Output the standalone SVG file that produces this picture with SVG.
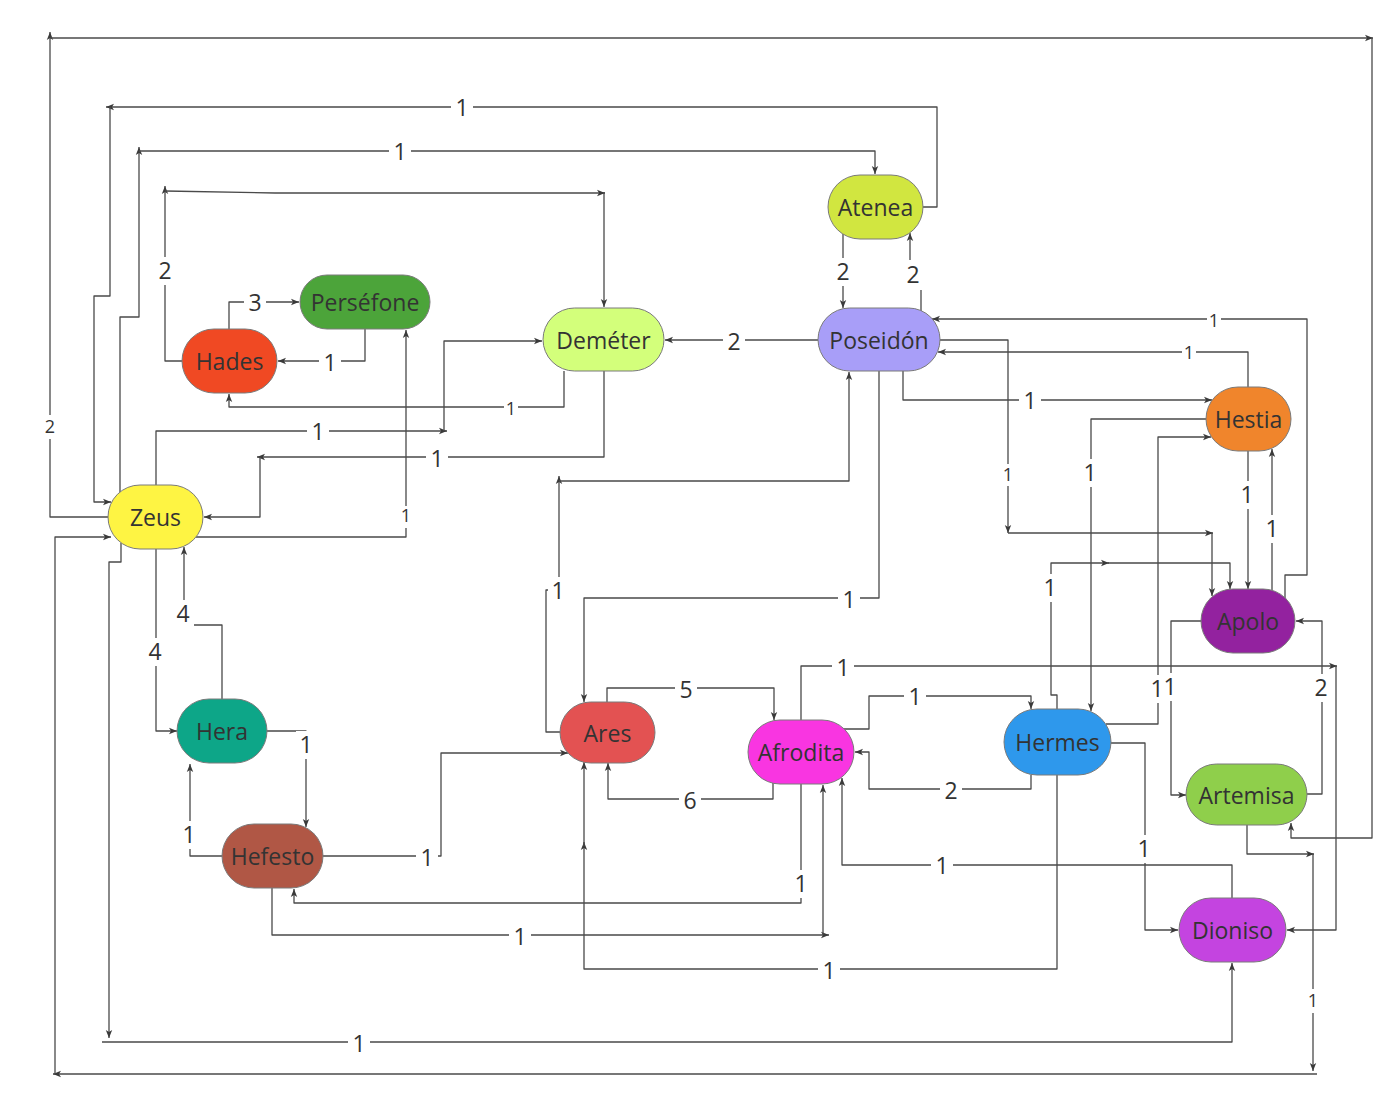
<svg xmlns="http://www.w3.org/2000/svg" width="1400" height="1115" viewBox="0 0 1400 1115">
  <defs>
    <marker id="ah" viewBox="0 0 10 10" refX="10" refY="5" markerWidth="8" markerHeight="8" markerUnits="userSpaceOnUse" orient="auto">
      <path d="M0,1 L10,5 L0,9 L2.5,5 z" fill="#3a3a3a"/>
    </marker>
    <style>
      .bg { fill: #ffffff; }
      .node rect { stroke: #7a7a7a; stroke-width: 1; }
      .node text { font-family: "Open Sans", "Noto Sans", "Liberation Sans", sans-serif; font-size: 23px; fill: #333333; text-anchor: middle; }
      .edges path { fill: none; stroke: #4a4a4a; stroke-width: 1.3; stroke-linejoin: round; }
      .edges path.a { marker-end: url(#ah); }
      .lbl rect { fill: #ffffff; }
      .lbl text { font-family: "Open Sans", "Noto Sans", "Liberation Sans", sans-serif; font-size: 23px; fill: #333333; text-anchor: middle; }
      .lbl text.s { font-size: 18px; }
    </style>
  </defs>
  <rect class="bg" x="0" y="0" width="1400" height="1115"/>

  <g class="edges">
    <!-- Zeus -> Artemisa, around the top -->
    <path class="a" d="M108,517 H50 V32"/>
    <path class="a" d="M50,38 H1373"/>
    <path class="a" d="M1372,38 V838 H1291 V823"/>
    <!-- Atenea -> Zeus -->
    <path class="a" d="M923,207 H937 V107 H106"/>
    <path class="a" d="M110,107 V296 H94 V502 H111"/>
    <!-- Zeus -> Atenea -->
    <path class="a" d="M120,492 V317 H139 V147"/>
    <path class="a" d="M139,151 H875 V174"/>
    <!-- Hades -> Deméter -->
    <path class="a" d="M182,361 H165 V186"/>
    <path class="a" d="M165,191 L275,193 H605"/>
    <path class="a" d="M604,192 V307"/>
    <!-- Hades -> Perséfone -->
    <path class="a" d="M229,329 V302 H299"/>
    <!-- Perséfone -> Hades -->
    <path class="a" d="M365,329 V361 H278"/>
    <!-- Deméter -> Hades -->
    <path class="a" d="M564,371 V407 H229 V394"/>
    <!-- Zeus -> Deméter -->
    <path class="a" d="M156,485 V431 H447"/>
    <path class="a" d="M444,431 V341 H542"/>
    <!-- Deméter -> Zeus -->
    <path class="a" d="M604,371 V457 H257"/>
    <path class="a" d="M260,457 V517 H204"/>
    <!-- Zeus -> Perséfone -->
    <path class="a" d="M196,537 H406 V330"/>
    <!-- Poseidón -> Deméter -->
    <path class="a" d="M818,340 H665"/>
    <!-- Atenea <-> Poseidón -->
    <path class="a" d="M843,234 V308"/>
    <path class="a" d="M921,311 V280 H910 V233"/>
    <!-- Poseidón -> Hestia -->
    <path class="a" d="M903,371 V400 H1212"/>
    <!-- Poseidón -> Apolo -->
    <path class="a" d="M940,340 H1008 V533"/>
    <path class="a" d="M1008,533 H1213"/>
    <path class="a" d="M1212,533 V596"/>
    <!-- Hestia -> Poseidón -->
    <path class="a" d="M1248,387 V352 H938"/>
    <!-- Apolo -> Poseidón -->
    <path class="a" d="M1285,598 V575 H1307 V319 H932"/>
    <!-- Hestia -> Hermes -->
    <path class="a" d="M1206,419 H1091 V711"/>
    <!-- Hermes -> Hestia -->
    <path class="a" d="M1106,724 H1158 V437 H1211"/>
    <!-- Apolo -> Artemisa -->
    <path class="a" d="M1201,621 H1171 V795 H1186"/>
    <!-- Hestia <-> Apolo -->
    <path class="a" d="M1248,451 V589"/>
    <path class="a" d="M1272,590 V449"/>
    <!-- Hermes -> Apolo -->
    <path class="a" d="M1057,709 V695 H1051 V563 H1109"/>
    <path class="a" d="M1108,563 H1230 V589"/>
    <!-- Artemisa -> Apolo -->
    <path class="a" d="M1307,794 H1322 V621 H1296"/>
    <!-- Afrodita -> Dioniso -->
    <path class="a" d="M801,720 V666 H1337"/>
    <path class="a" d="M1336,666 V930 H1287"/>
    <!-- Afrodita <-> Hermes -->
    <path class="a" d="M844,729 H869 V696 H1031 V709"/>
    <path class="a" d="M1031,775 V789 H869 V752 H855"/>
    <!-- Hermes -> Dioniso -->
    <path class="a" d="M1111,743 H1145 V930 H1178"/>
    <!-- Hermes -> Ares -->
    <path class="a" d="M1057,775 V969 H584 V842"/>
    <path class="a" d="M584,846 V762"/>
    <!-- Ares <-> Afrodita -->
    <path class="a" d="M607,702 V688 H774 V720"/>
    <path class="a" d="M773,783 V799 H608 V763"/>
    <!-- Poseidón -> Ares -->
    <path class="a" d="M879,371 V598 H584 V702"/>
    <!-- Ares -> Poseidón -->
    <path class="a" d="M560,732 H546 V590 H559 V476"/>
    <path class="a" d="M559,481 H849 V372"/>
    <!-- Hefesto -> Ares -->
    <path class="a" d="M323,856 H441 V753 H568"/>
    <!-- Afrodita -> Hefesto -->
    <path class="a" d="M801,784 V903 H294 V889"/>
    <!-- Hefesto -> Afrodita -->
    <path class="a" d="M272,888 V935 H829"/>
    <path class="a" d="M823,935 V785"/>
    <!-- Dioniso -> Afrodita -->
    <path class="a" d="M1232,898 V865 H842 V778"/>
    <!-- Zeus <-> Hera -->
    <path class="a" d="M156,549 V731 H177"/>
    <path class="a" d="M222,699 V625 H184 V547"/>
    <!-- Hera <-> Hefesto -->
    <path class="a" d="M267,731 H306 V827"/>
    <path class="a" d="M222,856 H190 V764"/>
    <!-- Zeus -> Dioniso -->
    <path class="a" d="M121,543 V562 H109 V1038"/>
    <path class="a" d="M102,1042 H1232 V963"/>
    <!-- Artemisa -> Zeus, around the bottom -->
    <path class="a" d="M1247,825 V854 H1314"/>
    <path class="a" d="M1313,854 V1071"/>
    <path class="a" d="M1317,1074 H53"/>
    <path class="a" d="M55,1074 V537 H111"/>
  </g>

  <g class="lbl" transform="translate(0,1)">
    <rect x="451" y="93" width="22" height="28"/><text x="462" y="115">1</text>
    <rect x="389" y="137" width="22" height="28"/><text x="400" y="159">1</text>
    <rect x="154" y="256" width="22" height="28"/><text x="165" y="278">2</text>
    <rect x="244" y="288" width="22" height="28"/><text x="255" y="310">3</text>
    <rect x="319" y="348" width="22" height="28"/><text x="330" y="370">1</text>
    <rect x="504" y="398" width="14" height="22"/><text class="s" x="511" y="414">1</text>
    <rect x="307" y="417" width="22" height="28"/><text x="318" y="439">1</text>
    <rect x="426" y="444" width="22" height="28"/><text x="437" y="466">1</text>
    <rect x="399" y="505" width="14" height="22"/><text class="s" x="406" y="521">1</text>
    <rect x="43" y="414" width="14" height="24"/><text class="s" x="50" y="432">2</text>
    <rect x="723" y="327" width="22" height="28"/><text x="734" y="349">2</text>
    <rect x="832" y="257" width="22" height="28"/><text x="843" y="279">2</text>
    <rect x="902" y="259" width="22" height="30"/><text x="913" y="282">2</text>
    <rect x="1019" y="386" width="22" height="28"/><text x="1030" y="408">1</text>
    <rect x="1001" y="463" width="14" height="22"/><text class="s" x="1008" y="480">1</text>
    <rect x="1182" y="342" width="14" height="20"/><text class="s" x="1189" y="358">1</text>
    <rect x="1207" y="310" width="14" height="20"/><text class="s" x="1214" y="326">1</text>
    <rect x="1080" y="458" width="20" height="28"/><text x="1090" y="480">1</text>
    <rect x="1149" y="674" width="16" height="28"/><text x="1157" y="696">1</text>
    <rect x="1163" y="672" width="15" height="28"/><text x="1170" y="694">1</text>
    <rect x="1237" y="480" width="20" height="28"/><text x="1247" y="502">1</text>
    <rect x="1262" y="514" width="20" height="28"/><text x="1272" y="536">1</text>
    <rect x="1040" y="573" width="20" height="28"/><text x="1050" y="595">1</text>
    <rect x="1310" y="673" width="22" height="28"/><text x="1321" y="695">2</text>
    <rect x="832" y="653" width="22" height="28"/><text x="843" y="675">1</text>
    <rect x="904" y="682" width="22" height="28"/><text x="915" y="704">1</text>
    <rect x="940" y="776" width="22" height="28"/><text x="951" y="798">2</text>
    <rect x="1134" y="834" width="20" height="28"/><text x="1144" y="856">1</text>
    <rect x="818" y="956" width="22" height="28"/><text x="829" y="978">1</text>
    <rect x="675" y="675" width="22" height="28"/><text x="686" y="697">5</text>
    <rect x="679" y="786" width="22" height="28"/><text x="690" y="808">6</text>
    <rect x="838" y="585" width="22" height="28"/><text x="849" y="607">1</text>
    <rect x="548" y="576" width="20" height="28"/><text x="558" y="598">1</text>
    <rect x="416" y="843" width="22" height="28"/><text x="427" y="865">1</text>
    <rect x="791" y="869" width="20" height="28"/><text x="801" y="891">1</text>
    <rect x="509" y="922" width="22" height="28"/><text x="520" y="944">1</text>
    <rect x="931" y="851" width="22" height="28"/><text x="942" y="873">1</text>
    <rect x="144" y="637" width="22" height="28"/><text x="155" y="659">4</text>
    <rect x="172" y="599" width="22" height="28"/><text x="183" y="621">4</text>
    <rect x="296" y="730" width="20" height="28"/><text x="306" y="752">1</text>
    <rect x="179" y="820" width="20" height="28"/><text x="189" y="842">1</text>
    <rect x="348" y="1029" width="22" height="28"/><text x="359" y="1051">1</text>
    <rect x="1306" y="988" width="14" height="24"/><text class="s" x="1313" y="1006">1</text>
  </g>

  <g id="atenea" class="node"><rect x="828" y="175" width="95" height="64" rx="32" fill="#D1E640"/><text x="875.5" y="216">Atenea</text></g>
  <g id="poseidon" class="node"><rect x="818" y="308" width="122" height="63" rx="31.5" fill="#A89EF8"/><text x="879" y="349">Poseidón</text></g>
  <g id="demeter" class="node"><rect x="543" y="308" width="121" height="63" rx="31.5" fill="#D3FF7B"/><text x="603.5" y="349">Deméter</text></g>
  <g id="persefone" class="node"><rect x="300" y="275" width="130" height="54" rx="27" fill="#4CA43A"/><text x="365" y="311">Perséfone</text></g>
  <g id="hades" class="node"><rect x="182" y="329" width="95" height="64" rx="32" fill="#F04923"/><text x="229.5" y="370">Hades</text></g>
  <g id="zeus" class="node"><rect x="108" y="485" width="95" height="64" rx="32" fill="#FEF443"/><text x="155.5" y="526">Zeus</text></g>
  <g id="hera" class="node"><rect x="177" y="699" width="90" height="64" rx="32" fill="#0DA688"/><text x="222" y="740">Hera</text></g>
  <g id="hefesto" class="node"><rect x="222" y="824" width="101" height="64" rx="32" fill="#B05745"/><text x="272.5" y="865">Hefesto</text></g>
  <g id="ares" class="node"><rect x="560" y="702" width="95" height="61" rx="30.5" fill="#E35252"/><text x="607.5" y="742">Ares</text></g>
  <g id="afrodita" class="node"><rect x="748" y="720" width="106" height="64" rx="32" fill="#F935E1"/><text x="801" y="761">Afrodita</text></g>
  <g id="hermes" class="node"><rect x="1004" y="709" width="107" height="66" rx="33" fill="#2E98EC"/><text x="1057.5" y="751">Hermes</text></g>
  <g id="hestia" class="node"><rect x="1206" y="387" width="85" height="64" rx="32" fill="#F0852C"/><text x="1248.5" y="428">Hestia</text></g>
  <g id="apolo" class="node"><rect x="1201" y="589" width="94" height="64" rx="32" fill="#93229F"/><text x="1248" y="630">Apolo</text></g>
  <g id="artemisa" class="node"><rect x="1186" y="764" width="121" height="61" rx="30.5" fill="#8FCF4B"/><text x="1246.5" y="804">Artemisa</text></g>
  <g id="dioniso" class="node"><rect x="1179" y="898" width="107" height="64" rx="32" fill="#C444E0"/><text x="1232.5" y="939">Dioniso</text></g>
</svg>
